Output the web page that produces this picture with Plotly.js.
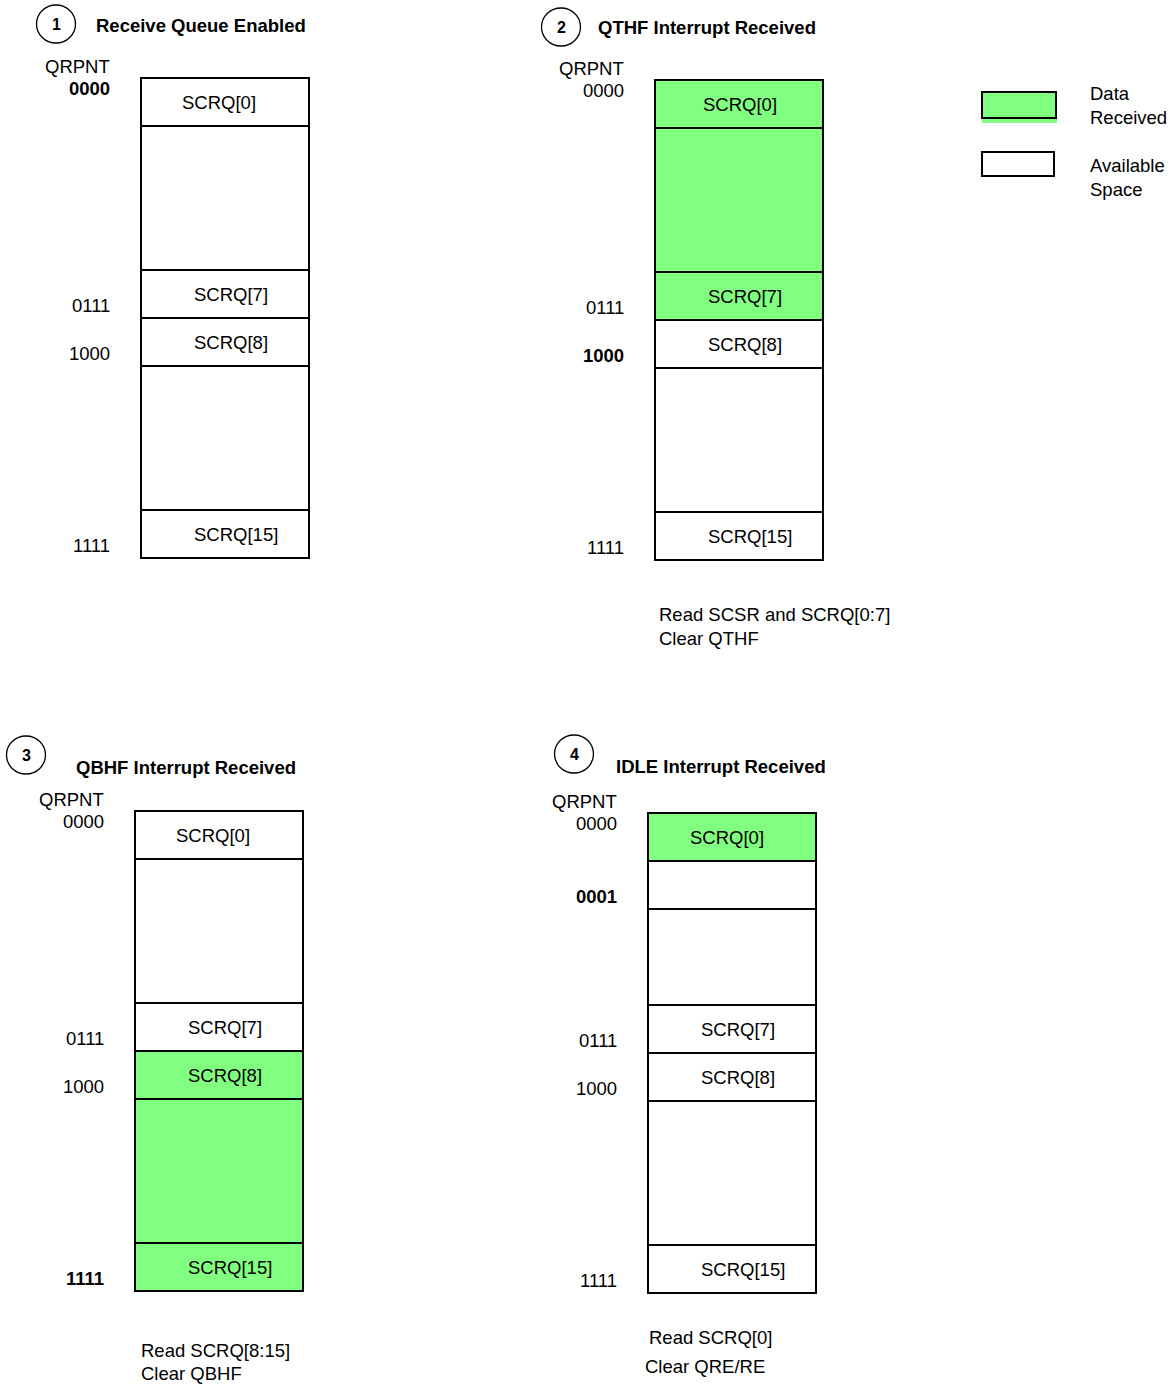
<!DOCTYPE html>
<html>
<head>
<meta charset="utf-8">
<script src="https://cdn.plot.ly/plotly-3.0.1.min.js"></script>
<style>html,body{margin:0;padding:0;background:#fff;}#chart{width:1172px;height:1385px;}</style>
</head>
<body>
<div id="chart"></div>
<script>
// ---------------- DATA ----------------
const PANEL_NUMBERS = ["1", "2", "3", "4"];
const PANEL_TITLES = ["Receive Queue Enabled", "QTHF Interrupt Received", "QBHF Interrupt Received", "IDLE Interrupt Received"];
const ROW_LABELS = [
  ["SCRQ[0]", "", "SCRQ[7]", "SCRQ[8]", "", "SCRQ[15]"],
  ["SCRQ[0]", "", "SCRQ[7]", "SCRQ[8]", "", "SCRQ[15]"],
  ["SCRQ[0]", "", "SCRQ[7]", "SCRQ[8]", "", "SCRQ[15]"],
  ["SCRQ[0]", "", "", "SCRQ[7]", "SCRQ[8]", "", "SCRQ[15]"]
];
const ROW_FIRST_SLOT = [
  [0, 1, 7, 8, 9, 15],
  [0, 1, 7, 8, 9, 15],
  [0, 1, 7, 8, 9, 15],
  [0, 1, 2, 7, 8, 9, 15]
];
const DATA_RECEIVED = [
  [0, 0, 0, 0, 0, 0],
  [1, 1, 1, 0, 0, 0],
  [0, 0, 0, 1, 1, 1],
  [1, 0, 0, 0, 0, 0, 0]
];
const QRPNT_VALUES = [
  [0, 7, 8, 15],
  [0, 7, 8, 15],
  [0, 7, 8, 15],
  [0, 1, 7, 8, 15]
];
const QRPNT_CURRENT = [0, 8, 15, 1];
const NOTES = [
  [],
  ["Read SCSR and SCRQ[0:7]", "Clear QTHF"],
  ["Read SCRQ[8:15]", "Clear QBHF"],
  ["Read SCRQ[0]", "Clear QRE/RE"]
];
const POINTER_HEADER = "QRPNT";
const LEGEND_LABELS = [["Data", "Received"], ["Available", "Space"]];

// ---------------- LAYOUT / STYLE ----------------
const W = 1172, H = 1385;
const FONT = "Liberation Sans, Arial, Helvetica, sans-serif";
const FS = 18.5;
const GREEN = "#80FF80";
const UNIT = 48, BOX_W = 168;
const ROW_UNITS = [
  [1, 3, 1, 1, 3, 1],
  [1, 3, 1, 1, 3, 1],
  [1, 3, 1, 1, 3, 1],
  [1, 1, 2, 1, 1, 3, 1]
];
const POS = [
  {x0: 141, top: 78, firstDx: 41, circle: [56, 24], title: [96, 25], notes: []},
  {x0: 655, top: 80, firstDx: 48, circle: [561, 27], title: [598, 27], notes: [[659, 614], [659, 638]]},
  {x0: 135, top: 811, firstDx: 41, circle: [26, 755], title: [76, 767], notes: [[141, 1350], [141, 1373]]},
  {x0: 648, top: 813, firstDx: 42, circle: [574, 754], title: [616, 766], notes: [[649, 1337], [645, 1366]]}
];
const LEGEND_POS = {box: [982, 1056], rows: [[92, 118], [152, 176]], textX: 1090, textY: [[93, 117], [165, 189]]};

const shapes = [], annotations = [];
function txt(x, y, text, opts) {
  opts = opts || {};
  const anchor = opts.anchor || "left";
  const dx = anchor === "left" ? -1 : (anchor === "right" ? 2 : 0);
  annotations.push({
    x: x + dx, y: y, xref: "x", yref: "y", text: text, showarrow: false,
    xanchor: anchor, yanchor: "middle",
    font: {family: FONT, size: opts.size || FS, color: "#000", weight: opts.bold ? "bold" : "normal"},
    borderpad: 0
  });
}
function rect(x0, y0, x1, y1, fill, lw) {
  shapes.push({type: "rect", xref: "x", yref: "y", x0: x0, x1: x1, y0: y0, y1: y1,
    fillcolor: fill || "rgba(0,0,0,0)", line: {color: "#000", width: lw === undefined ? 2 : lw}, layer: "above"});
}
function line(x0, y0, x1, y1) {
  shapes.push({type: "line", xref: "x", yref: "y", x0: x0, x1: x1, y0: y0, y1: y1, line: {color: "#000", width: 2}, layer: "above"});
}

PANEL_TITLES.forEach(function (title, p) {
  const pos = POS[p];
  const x0 = pos.x0, x1 = x0 + BOX_W;
  const starts = [];
  let y = pos.top;
  ROW_UNITS[p].forEach(function (u) { starts.push(y); y += u * UNIT; });
  const bottom = y;
  ROW_LABELS[p].forEach(function (lab, i) {
    const ys = starts[i], ye = (i + 1 < starts.length) ? starts[i + 1] : bottom;
    if (DATA_RECEIVED[p][i]) rect(x0, ys, x1, ye, GREEN, 0);
  });
  rect(x0, pos.top, x1, bottom, null, 2);
  starts.slice(1).forEach(function (s) { line(x0, s, x1, s); });
  ROW_LABELS[p].forEach(function (lab, i) {
    if (!lab) return;
    const ys = starts[i], ye = (i + 1 < starts.length) ? starts[i + 1] : bottom;
    const dx = ROW_FIRST_SLOT[p][i] === 0 ? pos.firstDx : 53;
    txt(x0 + dx, (ys + ye) / 2, lab);
  });
  const rx = x0 - 32;
  txt(rx, pos.top - 12, POINTER_HEADER, {anchor: "right"});
  QRPNT_VALUES[p].forEach(function (v) {
    const row = ROW_FIRST_SLOT[p].indexOf(v);
    const yy = v === 0 ? pos.top + 10 : starts[row] + 35;
    txt(rx, yy, v.toString(2).padStart(4, "0"), {anchor: "right", bold: v === QRPNT_CURRENT[p]});
  });
  const c = pos.circle;
  shapes.push({type: "circle", xref: "x", yref: "y", x0: c[0] - 19.5, x1: c[0] + 19.5, y0: c[1] - 19, y1: c[1] + 19,
    line: {color: "#000", width: 1.3}, fillcolor: "rgba(0,0,0,0)"});
  txt(c[0], c[1], PANEL_NUMBERS[p], {anchor: "center", bold: true, size: 16});
  txt(pos.title[0], pos.title[1], title, {bold: true});
  NOTES[p].forEach(function (n, k) { txt(pos.notes[k][0], pos.notes[k][1], n); });
});

const LB = LEGEND_POS;
shapes.push({type: "rect", xref: "x", yref: "y", x0: LB.box[0], x1: LB.box[1] + 1, y0: LB.rows[0][0], y1: LB.rows[0][1] + 5,
  fillcolor: GREEN, line: {width: 0}});
rect(LB.box[0], LB.rows[0][0], LB.box[1], LB.rows[0][1], null, 2);
rect(LB.box[0], LB.rows[1][0], LB.box[1] - 2, LB.rows[1][1], "#fff", 2);
LEGEND_LABELS.forEach(function (lines, i) {
  lines.forEach(function (t, k) { txt(LB.textX, LB.textY[i][k], t); });
});

const layout = {
  width: W, height: H,
  margin: {l: 0, r: 0, t: 0, b: 0},
  paper_bgcolor: "#fff", plot_bgcolor: "#fff",
  xaxis: {range: [0, W], visible: false, fixedrange: true},
  yaxis: {range: [H, 0], visible: false, fixedrange: true},
  showlegend: false,
  shapes: shapes,
  annotations: annotations
};
Plotly.newPlot("chart", [], layout, {staticPlot: true, displayModeBar: false});
</script>
</body>
</html>
